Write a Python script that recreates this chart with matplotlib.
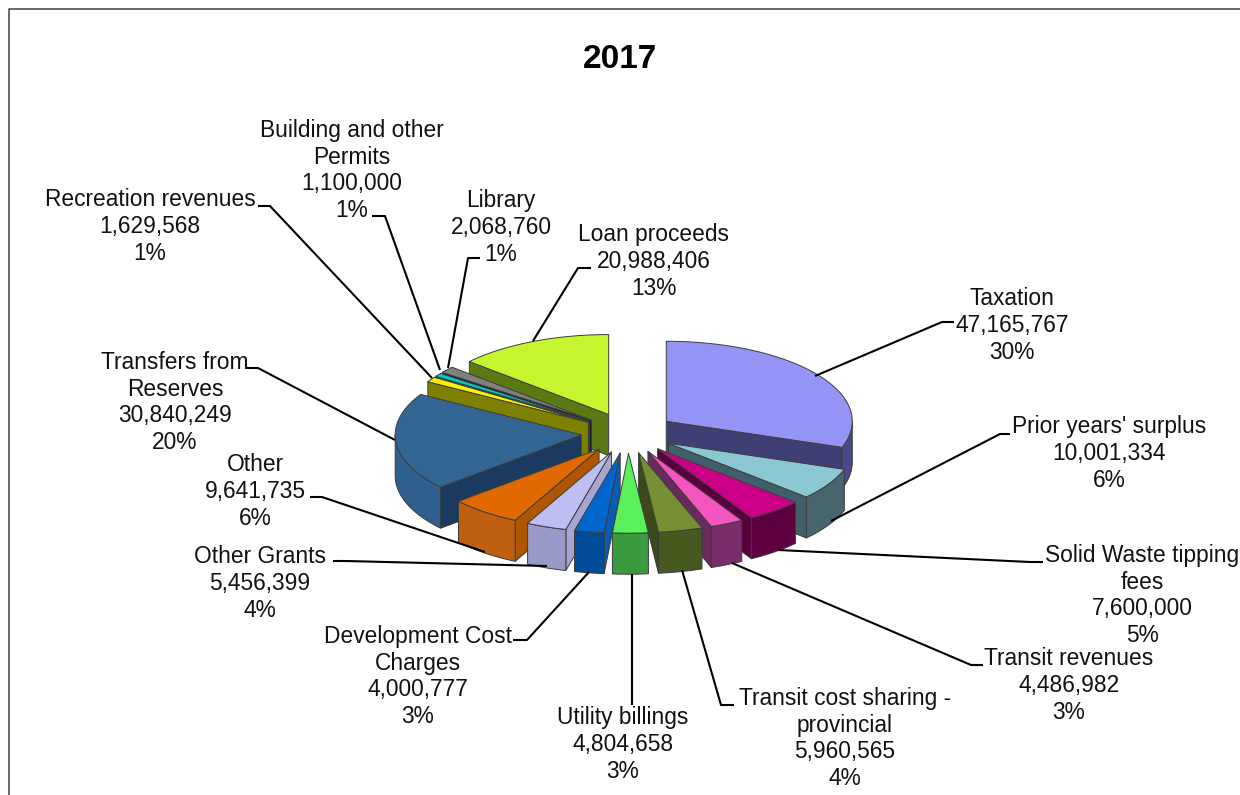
#!/usr/bin/env python
# coding: utf-8
import numpy as np
import matplotlib
matplotlib.use('Agg')
import matplotlib.pyplot as plt
from matplotlib.patches import Polygon

plt.rcParams['font.family'] = ['Liberation Sans', 'DejaVu Sans']

# data, clockwise from 12 o'clock
names = ['Taxation', "Prior years' surplus", 'Solid Waste tipping\nfees', 'Transit revenues',
         'Transit cost sharing -\nprovincial', 'Utility billings', 'Development Cost\nCharges',
         'Other Grants', 'Other', 'Transfers from\nReserves', 'Recreation revenues',
         'Building and other\nPermits', 'Library', 'Loan proceeds']
values = [47165767, 10001334, 7600000, 4486982, 5960565, 4804658, 4000777,
          5456399, 9641735, 30840249, 1629568, 1100000, 2068760, 20988406]
percents = [30, 6, 5, 3, 4, 3, 3, 4, 6, 20, 1, 1, 1, 13]

# top, radial side, outer rim
top_cols = ['#9494F6', '#8CC8D4', '#CC0088', '#F555BE', '#768F33', '#5CEF5C', '#0066CC',
            '#BEBEF2', '#E06A00', '#336592', '#FFF200', '#00CCCC', '#808080', '#C4F52E']
side_cols = ['#3F3F73', '#3F6068', '#5A003C', '#6A2A5E', '#3A4A18', '#3A9A3E', '#0A5CB0',
             '#A6A6D0', '#B05500', '#1A3A60', '#808000', '#005A5A', '#111111', '#5C7A14']
rim_cols = ['#4A4A8A', '#46656E', '#5E0040', '#7B2D6B', '#465A1F', '#3A9A3E', '#004C99',
            '#9999C8', '#C0600F', '#2F5F8F', '#808000', '#005A5A', '#444444', '#5C7A14']

# label block centre and leader polyline (pixels)
label_xy = [(1012, 325.5), (1109, 453.5), (1142, 595.5), (1069, 685.5), (845, 738.5), (623, 744.5), (418, 676.5),
            (260, 583.5), (255, 491.5), (175, 402.5), (150, 226.5), (352, 170.5), (501, 227.5), (654, 261.5)]
leaders = [[(815, 376), (942, 322), (954, 322)],
           [(831, 521), (1000, 434), (1010, 434)],
           [(778, 550), (1030, 562), (1043, 562)],
           [(732, 563), (971, 665), (983, 665)],
           [(682, 570), (721, 705), (734, 705)],
           [(632, 574), (632, 705)],
           [(589, 572), (527, 640), (513, 640)],
           [(547, 566), (346, 561), (333, 561)],
           [(485, 552), (322, 497), (310, 497)],
           [(395, 440), (258, 368), (246, 368)],
           [(432, 378), (270, 206), (258, 206)],
           [(440, 370), (385, 216), (372, 216)],
           [(448, 368), (468, 258), (480, 258)],
           [(533, 341), (578, 268), (591, 268)]]

cx, cy = 628, 433
rx, ry = 186, 80
depth = 41
explode = 47
edge = '#3C3C3C'

fig = plt.figure(figsize=(12.4, 7.95), dpi=100)
ax = fig.add_axes([0, 0, 1, 1])
ax.set_xlim(0, 1240)
ax.set_ylim(795, 0)
ax.axis('off')


def ground(a, r, ox, oy):
    # a is degrees clockwise from the top, r is a fraction of the radius
    t = np.radians(a)
    return ox + r * rx * np.sin(t), oy - r * ry * np.cos(t)


def face(xs, ys, col, z):
    ax.add_patch(Polygon(np.column_stack([xs, ys]), closed=True, facecolor=col,
                         edgecolor=edge, linewidth=0.7, joinstyle='round', zorder=z))


vals = np.array(values, dtype=float)
edges = np.concatenate([[0], np.cumsum(vals) / vals.sum() * 360])
mids = (edges[:-1] + edges[1:]) / 2
order = np.argsort(-np.cos(np.radians(mids)))

for z, i in enumerate(order):
    a1, a2 = edges[i], edges[i + 1]
    t = np.radians(mids[i])
    ox = cx + explode * np.sin(t)
    oy = cy - explode * ry / rx * np.cos(t)
    zb = 2 + z * 0.01

    # radial faces that look towards the viewer
    if np.sin(np.radians(a1)) < 0:
        x1, y1 = ground(a1, 1, ox, oy)
        face([ox, x1, x1, ox], [oy, y1, y1 + depth, oy + depth], side_cols[i], zb)
    if np.sin(np.radians(a2)) > 0:
        x1, y1 = ground(a2, 1, ox, oy)
        face([ox, x1, x1, ox], [oy, y1, y1 + depth, oy + depth], side_cols[i], zb)

    # outer rim, front half only
    lo, hi = max(a1, 90), min(a2, 270)
    if hi > lo:
        arc = np.linspace(lo, hi, 60)
        xr, yr = ground(arc, 1, ox, oy)
        face(np.concatenate([xr, xr[::-1]]), np.concatenate([yr, yr[::-1] + depth]), rim_cols[i], zb + 0.001)

    arc = np.linspace(a1, a2, 120)
    xr, yr = ground(arc, 1, ox, oy)
    face(np.concatenate([[ox], xr]), np.concatenate([[oy], yr]), top_cols[i], zb + 0.002)

for pts in leaders:
    p = np.array(pts)
    ax.plot(p[:, 0], p[:, 1], color='black', lw=1.5, solid_capstyle='butt', zorder=5)

for name, v, pct, (lx, ly) in zip(names, values, percents, label_xy):
    ax.text(lx, ly, '%s\n%s\n%d%%' % (name, format(v, ','), pct), ha='center', va='center',
            fontsize=16.4, linespacing=1.22, color='#111111', zorder=6)

ax.text(620, 59, '2017', ha='center', va='center', fontsize=24, fontweight='bold', color='black')

# chart frame: only top and left are inside the picture
ax.plot([8.5, 8.5, 1240], [795, 8.5, 8.5], color='#404040', lw=1.1, zorder=1)

fig.savefig('out.png', dpi=100)
